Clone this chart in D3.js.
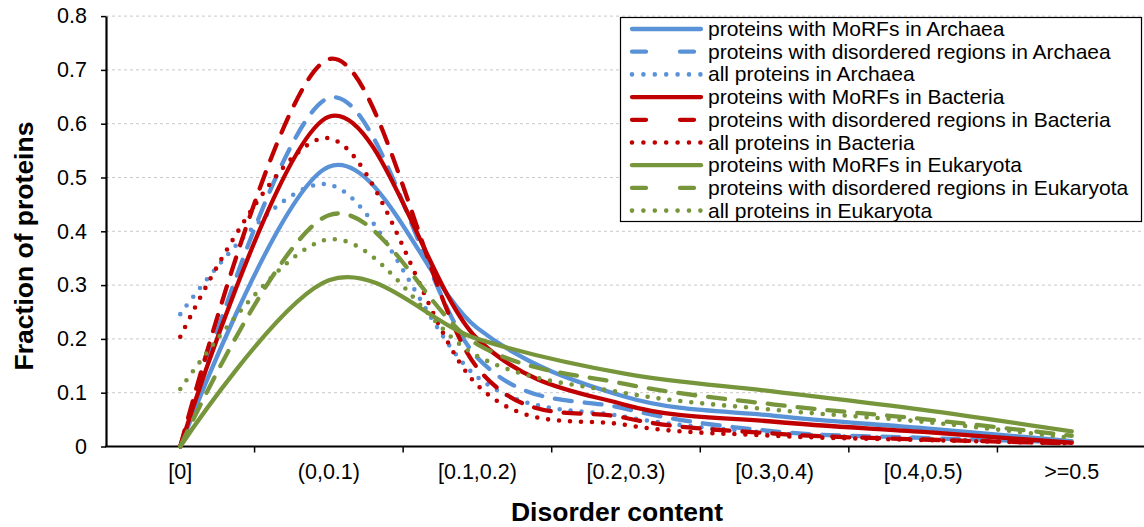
<!DOCTYPE html>
<html>
<head>
<meta charset="utf-8">
<script src="https://cdn.jsdelivr.net/npm/d3@7"></script>
<style>
  body { margin: 0; background: #fff; }
  text { font-family: "Liberation Sans", Arial, sans-serif; fill: #000; }
</style>
</head>
<body>
<div id="chart"></div>
<script>
// categories on the x axis
const categories = ["[0]", "(0,0.1)", "[0.1,0.2)", "[0.2,0.3)", "[0.3,0.4)", "[0.4,0.5)", ">=0.5"];
const yTicks = [0, 0.1, 0.2, 0.3, 0.4, 0.5, 0.6, 0.7, 0.8];

// series values
const archaeaMorf = [0, 0.52, 0.22, 0.092, 0.057, 0.034, 0.01];
const archaeaDis  = [0, 0.648, 0.165, 0.07, 0.028, 0.016, 0.008];
const archaeaAll  = [0.246, 0.487, 0.129, 0.055, 0.025, 0.014, 0.008];
const bacteriaMorf = [0, 0.613, 0.2, 0.077, 0.046, 0.027, 0.007];
const bacteriaDis  = [0, 0.72, 0.146, 0.053, 0.024, 0.013, 0.006];
const bacteriaAll  = [0.204, 0.573, 0.114, 0.04, 0.02, 0.012, 0.006];
const eukMorf = [0, 0.309, 0.2, 0.135, 0.102, 0.068, 0.028];
const eukDis  = [0, 0.43, 0.19, 0.116, 0.078, 0.051, 0.02];
const eukAll  = [0.107, 0.385, 0.168, 0.099, 0.068, 0.046, 0.016];

const seriesNames = [
  "proteins with MoRFs in Archaea",
  "proteins with disordered regions in Archaea",
  "all proteins in Archaea",
  "proteins with MoRFs in Bacteria",
  "proteins with disordered regions in Bacteria",
  "all proteins in Bacteria",
  "proteins with MoRFs in Eukaryota",
  "proteins with disordered regions in Eukaryota",
  "all proteins in Eukaryota"
];
const seriesValues = [archaeaMorf, archaeaDis, archaeaAll, bacteriaMorf, bacteriaDis, bacteriaAll, eukMorf, eukDis, eukAll];

const blue = "#5A92D8", red = "#C00000", green = "#77963C";
const colors = [blue, blue, blue, red, red, red, green, green, green];
const dashes = [null, "17,13", "0,11", null, "17,13", "0,11", null, "17,13", "0,11"];

const W = 1144, H = 527;
const svg = d3.select("#chart").append("svg")
    .attr("width", W)
    .attr("height", H);

// scales
const x = d3.scaleBand().domain(categories).range([106, 1146]);
const y = d3.scaleLinear().domain([0, 0.8]).range([446.5, 16.1]);

// gridlines
svg.append("g")
    .selectAll("line")
    .data(yTicks.filter(d => d > 0))
    .enter()
    .append("line")
    .attr("x1", 106).attr("x2", W)
    .attr("y1", d => y(d)).attr("y2", d => y(d))
    .attr("stroke", "#c8c8c8")
    .attr("stroke-width", 1)
    .attr("stroke-dasharray", "3,3");

// y axis
const yAxis = svg.append("g")
    .attr("transform", "translate(106,0)")
    .call(d3.axisLeft(y).tickValues(yTicks).tickSize(5).tickSizeOuter(0).tickFormat(d3.format("")));
yAxis.select(".domain").attr("stroke", "#000").attr("stroke-width", 2.2);
yAxis.selectAll(".tick line").attr("stroke", "#000").attr("stroke-width", 1.5);
yAxis.selectAll(".tick text")
    .attr("x", -19)
    .style("font-size", "21.5px")
    .style("font-family", "Liberation Sans, Arial, sans-serif");

// x axis: labels at band centres, tick marks at band edges
const xAxis = svg.append("g")
    .attr("transform", "translate(0," + y(0) + ")")
    .call(d3.axisBottom(x).tickSize(0).tickSizeOuter(0));
xAxis.select(".domain").remove();
xAxis.selectAll(".tick text")
    .attr("y", 17)
    .style("font-size", "21.5px")
    .style("font-family", "Liberation Sans, Arial, sans-serif");

svg.append("line")
    .attr("x1", 105).attr("x2", W)
    .attr("y1", y(0)).attr("y2", y(0))
    .attr("stroke", "#000").attr("stroke-width", 2.2);

svg.append("g")
    .selectAll("line")
    .data(categories.slice(1))
    .enter()
    .append("line")
    .attr("x1", d => x(d)).attr("x2", d => x(d))
    .attr("y1", y(0)).attr("y2", y(0) + 6)
    .attr("stroke", "#000").attr("stroke-width", 1.5);

// axis titles
svg.append("text")
    .attr("x", 617).attr("y", 521)
    .attr("text-anchor", "middle")
    .style("font-size", "26.5px")
    .style("font-weight", "bold")
    .text("Disorder content");

svg.append("text")
    .attr("transform", "translate(33,246)rotate(-90)")
    .attr("text-anchor", "middle")
    .style("font-size", "26.5px")
    .style("font-weight", "bold")
    .text("Fraction of proteins");

// lines
const line = d3.line()
    .x((d, i) => x(categories[i]) + x.bandwidth() / 2)
    .y(d => y(d))
    .curve(d3.curveCardinal.tension(0));

svg.append("g")
    .selectAll("path")
    .data(seriesValues)
    .enter()
    .append("path")
    .attr("d", d => line(d))
    .attr("fill", "none")
    .attr("stroke", (d, i) => colors[i])
    .attr("stroke-width", (d, i) => dashes[i] === "0,11" ? 4.6 : 4.3)
    .attr("stroke-linecap", "round")
    .attr("stroke-dasharray", (d, i) => dashes[i]);

// legend
const legend = svg.append("g");
legend.append("rect")
    .attr("x", 620.5).attr("y", 17.5)
    .attr("width", 521).attr("height", 204)
    .attr("fill", "#fff")
    .attr("stroke", "#000")
    .attr("stroke-width", 1.2);

const items = legend.selectAll("g.item")
    .data(seriesNames)
    .enter()
    .append("g")
    .attr("transform", (d, i) => `translate(0,${29 + i * 22.7})`);

items.append("line")
    .attr("x1", 632).attr("x2", 701)
    .attr("y1", 0).attr("y2", 0)
    .attr("stroke", (d, i) => colors[i])
    .attr("stroke-width", (d, i) => dashes[i] === "0,11" ? 4.6 : 4.3)
    .attr("stroke-linecap", "round")
    .attr("stroke-dasharray", (d, i) => dashes[i] === "17,13" ? "14,34" : (dashes[i] === "0,11" ? "0,11.4" : null));

items.append("text")
    .attr("x", 708)
    .attr("y", 7)
    .style("font-size", "21px")
    .text(d => d);
</script>
</body>
</html>
